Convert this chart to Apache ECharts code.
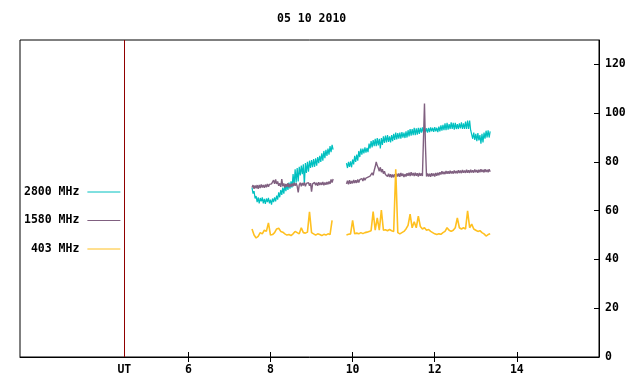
<!DOCTYPE html>
<html>
<head>
<meta charset="utf-8">
<script src="https://cdn.jsdelivr.net/npm/echarts@6/dist/echarts.min.js"></script>
<style>html,body{margin:0;padding:0;background:#fff}#c{width:640px;height:384px}</style>
</head>
<body>
<div id="c"></div>
<script>
// ---- data ----
const titleText = '05 10 2010';
const seriesNames = ['2800 MHz', '1580 MHz', '403 MHz'];
const utTime = 4.44;                 // UT marker (hours)
const xTickValues = [6, 8, 10, 12, 14];
const yTickValues = [0, 20, 40, 60, 80, 100, 120];

// sampling grid of the two recorded segments (hours, UT)
const seg1Start = 7.55, seg2Start = 9.85;
const fineStep = 0.025;   // 2800 / 1580 MHz samples
const coarseStep = 0.05;  // 403 MHz samples

// ---- 2800 MHz ----
const s2800a = [69.5,67,68,65,66,63.5,65.5,63,65.2,63.8,
  65.5,63,64.8,62.8,65,63.5,65.3,63,64.5,62.5,
  65,63.5,65.5,63.8,66.2,64.5,67.5,65.5,68.5,66.5,
  69.5,67,70.5,68,70.8,68.5,71.5,69,72,69.5,
  75,70.5,77,71.5,77.5,72,78,74.5,78.5,75,
  79,70.5,79.5,75.5,80,76,80.5,77.5,80.8,77.8,
  81.2,78,81.5,78.5,82,79.5,82.5,80,83.5,80.5,
  84.5,81.5,85,82.5,85.5,83,86.5,84,87,85];
const s2800b = [79.5,77.5,80,78,80.2,77.8,81,79,82.5,80,
  83,80.5,84.5,82,85.5,83,85.5,83.5,86,83.8,
  85.8,84,87.5,85.5,88.5,86,89,86.5,89.5,86.5,
  89.8,86.8,89.5,85.5,89.8,87,90.5,87.8,90.8,88,
  91,88.2,90.5,88,91,88.5,91.5,89,92,89.2,
  91.8,89.5,92,89.5,92.2,90,92,89.8,92.5,90,
  93,90.5,93.5,90.8,93.5,91,94,91,93.8,91.2,
  94,91.5,94,92,94.2,92,94,92.2,93.8,92,
  94,92.2,94.2,92.5,94,92.3,94.3,92.5,94,92.2,
  94.5,92.5,95,92.8,95.2,93,95.8,93,96,93.2,
  95.5,93.5,96.2,93.5,96,93.2,96,93.5,95.5,93.5,
  95.8,93.8,96.2,93.5,95.8,93.5,96.5,93.5,97,93.5,
  97,93,92.5,89.5,92,89,91.5,88.5,91.8,88.8,
  91,87.5,91.5,88,92,89.5,92.8,90,93,90,92.5];

// ---- 1580 MHz ----
const s1580a = [69.5,70.5,69,70.3,69.2,70.5,69,70.6,69.3,70.8,
  69.5,70.5,69.4,70.7,69.6,71,69.8,70.8,70,71,
  70.5,72.5,71,72.8,71,72,70.2,71.2,69.8,73,
  70,71.2,69.5,71,69.8,71.3,69.6,71,69.8,71.2,
  70,71.5,70.2,71.3,70,67.5,70.5,71.5,70,71.4,
  70.3,71.6,70,71.2,70.5,71.5,70.2,71.3,67.8,71,
  70.3,71.6,70.4,71.5,70.2,71.7,70.5,71.5,70.6,71.8,
  70.4,71.6,70.6,71.8,70.8,72,71,72.8,71.5,73];
const s1580b = [71,72.3,70.8,72.5,71,72.2,71.2,72.6,71.3,72.5,
  71.4,72.8,71.6,72.7,72,73.2,72.2,73.5,72.5,73.4,
  72.6,73.8,73,74.2,74,75.5,74.5,76.5,78,80,
  78.5,77.5,76.2,77.8,75.8,77,75.2,76.2,74.8,75.6,
  74,75.2,73.8,75,73.6,74.8,73.7,75,73.8,75.2,
  74,75.3,73.9,75.5,74.2,75.2,73.8,75,74,75.4,
  74.3,75.6,74.2,75.8,74.4,75.5,74.2,75.6,74.3,75.4,
  74,75.5,74.3,75.3,74.2,75,104,86,74,75.3,
  74,75.2,73.9,75.4,74.2,75.3,74,75.5,74.3,75.6,
  74.5,75.8,74.8,76.2,75,76,75,76.3,75.2,76.2,
  75.1,76.4,75.3,76.2,75.2,76.5,75.4,76.3,75.3,76.6,
  75.5,76.5,75.4,76.7,75.6,76.5,75.5,76.8,75.6,76.6,
  75.5,76.8,75.7,76.6,75.6,76.9,75.8,76.7,75.6,76.8,
  75.8,77,75.9,76.8,75.7,77,75.9,76.8,75.8,77,76];

// ---- 403 MHz ----
const s403a = [52.5,50,48.8,49.5,51,50.5,52,51.5,55,50,
  50.2,51,52.5,52.8,51.5,51.2,50.5,50,50.2,49.8,
  50.5,51.5,51,50.5,53,51,50.8,51.2,59.5,51,
  50.5,50,50.5,50.2,49.8,50.3,50,50.5,50.2,56];
const s403b = [50,50.3,50.5,56,50.5,50.8,50.5,51,50.6,51,
  51.2,51.5,51.8,59.6,52,57,52,60.3,52,52.2,
  51.8,52.3,51.8,51.5,77,51,50.5,51,51.5,52.5,
  54,58.6,53,55.5,53,57.8,53.5,52.5,53,52,
  52.3,51.5,51,50.5,50.2,50.5,50.3,51,51.5,53,
  52,51.5,52,53,57,53,52.5,53,52.5,59.9,
  53,54.5,52.5,52,51.5,51.8,51,50.5,49.6,50.2,50.5];

const seriesColors = ['#00c0c0', '#806080', '#ffc020'];
const seriesWidths = [1.2, 1.4, 1.6];

// ---- build ----
function build(a, b, step) {
  const out = [];
  a.forEach((v, i) => out.push([seg1Start + i * step, v]));
  out.push([(seg1Start + a.length * step + seg2Start) / 2, '-']);
  b.forEach((v, i) => out.push([seg2Start + i * step, v]));
  return out;
}
const seriesData = [
  build(s2800a, s2800b, fineStep),
  build(s1580a, s1580b, fineStep),
  build(s403a, s403b, coarseStep)
];

const FONT = 'DejaVu Sans Mono';
const txt = {fontFamily: FONT, fontWeight: 'bold', fontSize: 11.5, color: '#000'};

const chart = echarts.init(document.getElementById('c'), null, {renderer: 'canvas'});
chart.setOption({
  animation: false,
  backgroundColor: '#fff',
  title: {text: titleText, left: 277, top: 13, padding: 0, textStyle: Object.assign({}, txt)},
  grid: {left: 20, top: 40, width: 579, height: 317, show: true, borderColor: '#000', borderWidth: 1, backgroundColor: 'transparent'},
  legend: {
    orient: 'vertical', align: 'right', left: 24, top: 186, padding: 0,
    itemWidth: 33, itemHeight: 14, itemGap: 16.5,
    itemStyle: {opacity: 0, borderWidth: 0},
    lineStyle: {width: 1},
    textStyle: Object.assign({padding: [0, 3, 0, 0]}, txt),
    data: seriesNames.slice()
  },
  xAxis: [{
    type: 'value', min: 1.9, max: 16, position: 'bottom',
    axisLine: {show: true, onZero: false, lineStyle: {color: '#000'}},
    axisTick: {show: true, inside: true, length: 5, customValues: xTickValues, lineStyle: {color: '#000'}},
    axisLabel: Object.assign({show: true, margin: 7, customValues: [utTime].concat(xTickValues),
      formatter: v => (Math.abs(v - utTime) < 1e-6 ? 'UT' : String(v))}, txt),
    splitLine: {show: false}
  }, {
    type: 'value', min: 1.9, max: 16, position: 'top',
    axisLine: {show: false},
    axisTick: {show: true, inside: true, length: 5, customValues: xTickValues, lineStyle: {color: '#000'}},
    axisLabel: {show: false},
    splitLine: {show: false}
  }],
  yAxis: [{
    type: 'value', min: 0, max: 130, position: 'right',
    axisLine: {show: true, lineStyle: {color: '#000'}},
    axisTick: {show: true, inside: true, length: 5, customValues: yTickValues, lineStyle: {color: '#000'}},
    axisLabel: Object.assign({show: true, margin: 6, align: 'left', customValues: yTickValues}, txt),
    splitLine: {show: false}
  }],
  series: seriesNames.map((n, k) => ({
    name: n, type: 'line', data: seriesData[k], xAxisIndex: 0, yAxisIndex: 0,
    showSymbol: false, symbol: 'none', connectNulls: false,
    lineStyle: {color: seriesColors[k], width: seriesWidths[k]}, itemStyle: {color: seriesColors[k]},
    z: 3,
    markLine: k === 0 ? {
      silent: true, symbol: 'none', label: {show: false},
      lineStyle: {color: '#900000', width: 1, type: 'solid'},
      data: [{xAxis: utTime}]
    } : undefined
  }))
});
</script>
</body>
</html>
